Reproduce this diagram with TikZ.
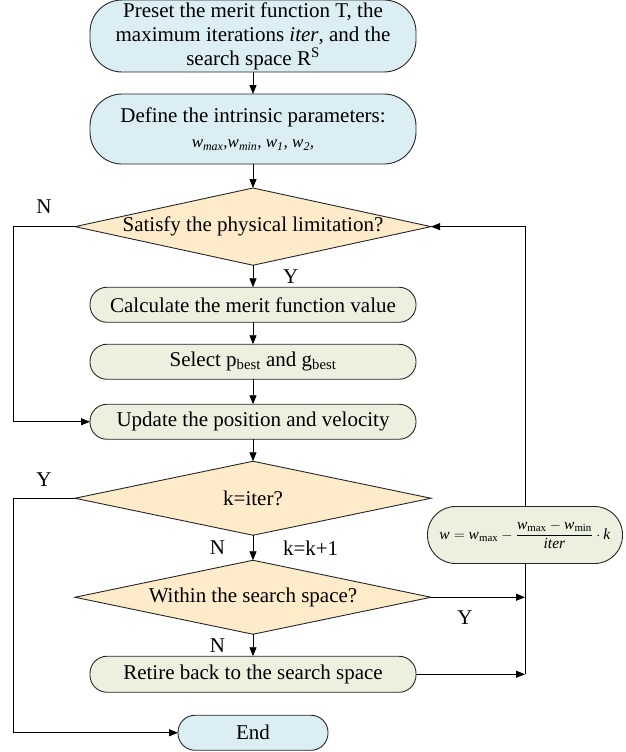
\documentclass[tikz,border=0pt]{standalone}
\usepackage{fontspec}
\setmainfont{Liberation Serif}
\usepackage{amsmath}
\usetikzlibrary{
  shapes.geometric,
  positioning,
  arrows.meta
}
\definecolor{termblue}{HTML}{DAEEF3}
\definecolor{procgreen}{HTML}{EBF1DE}
\definecolor{decyellow}{HTML}{FDEBC9}
\tikzset{%
  node distance=22pt, % gap between the boxes of the main column
  every node/.style={font=\fontsize{21}{24}\selectfont, outer sep=0pt},
  term/.style={draw=black!85, fill=termblue, rounded corners=32pt, minimum width=326pt, align=center, inner sep=0pt},
  proc/.style={draw=black!85, fill=procgreen, rounded corners=17pt, minimum width=326pt, minimum height=35pt, inner sep=0pt},
  decision/.style={draw=black!85, fill=decyellow, diamond, aspect=4.5, minimum width=356pt, minimum height=74pt, inner sep=0pt},
  lbl/.style={inner sep=0pt}
}
\newcommand{\wvar}{\text{\textit{w}}}

\begin{document}
\begin{tikzpicture}[x=1pt, y=1pt, line width=0.9pt, >={Triangle[length=9pt,width=7pt]},
    every edge/.style={draw, ->, line width=0.9pt}]
    \useasboundingbox (0,0) rectangle (625,-752);
    \node[term, minimum height=72pt] (preset) at (253,-36) {Preset the merit function T, the\\maximum iterations \textit{iter}, and the\\search space R\textsuperscript{S}};
    \node[term, minimum height=70pt, below=of preset] (define) {Define the intrinsic parameters:\\[1pt]{\fontsize{17}{20}\selectfont\textit{w\textsubscript{max},w\textsubscript{min}, w\textsubscript{1}, w\textsubscript{2},}}};
    \node[decision, below=24pt of define] (phys) {Satisfy the physical limitation?};
    \node[proc, below=of phys] (merit) {Calculate the merit function value};
    \node[proc, below=of merit] (best) {Select p\textsubscript{best} and g\textsubscript{best}};
    \node[proc, below=25pt of best] (update) {Update the position and velocity};
    \node[decision, below=of update] (kiter) {k=iter?};
    \node[decision, below=25pt of kiter] (within) {Within the search space?};
    \node[proc, minimum height=36pt, below=of within] (retire) {Retire back to the search space};
    \node[term, rounded corners=17pt, minimum width=150pt, minimum height=35pt, below=23pt of retire] (end) {End};
    \node[proc, rounded corners=28pt, minimum width=195pt, minimum height=57pt, font=\fontsize{15.5}{18}\selectfont] (wform) at (525,-535)
      {$\wvar = \wvar_{\text{max}} - \dfrac{\wvar_{\text{max}} - \wvar_{\text{min}}}{\text{\textit{iter}}}\cdot \text{\textit{k}}$};
    \coordinate (lft) at (13,0);
    % main column
    \draw (preset) edge (define);
    \draw (define) edge (phys);
    \draw (phys) edge node[lbl, right=30pt] {Y} (merit);
    \draw (merit) edge (best);
    \draw (best) edge (update);
    \draw (update) edge (kiter);
    \draw (kiter) edge node[lbl, left=28pt] {N} node[lbl, right=30pt] {k=k+1} (within);
    \draw (within) edge node[lbl, left=28pt] {N} (retire);
    % loops on the left
    \draw[->] (phys.west) -- node[lbl, above=13pt] {N} (phys.west -| lft) |- (update.west);
    \draw[->] (kiter.west) -- node[lbl, above=12pt] {Y} (kiter.west -| lft) |- (end.west);
    % loop on the right
    \draw[->] (within.east) -- node[lbl, below=13pt, pos=.36] {Y} (within.east -| wform.south);
    \draw[->] (retire.east) -- (retire.east -| wform.south);
    \draw (retire.east -| wform.south) -- (wform.south);
    \draw[->] (wform.north) |- (phys.east);
\end{tikzpicture}
\end{document}
